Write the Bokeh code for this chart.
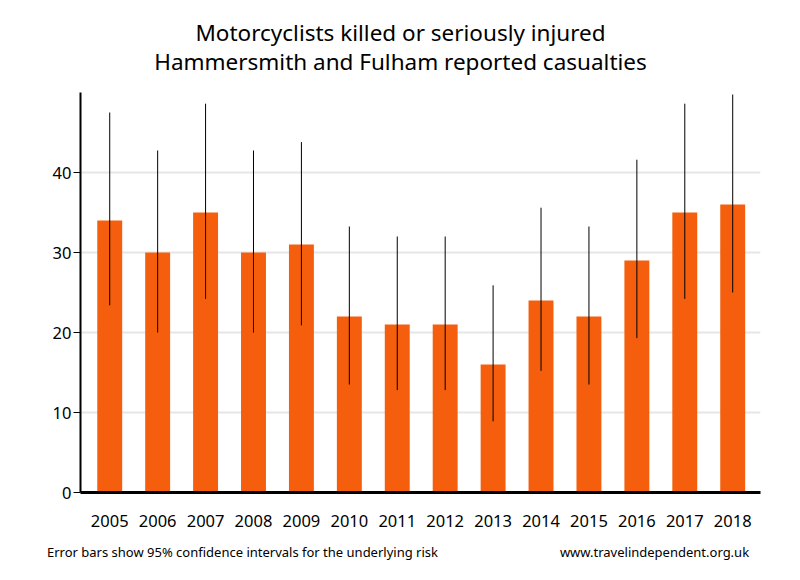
from bokeh.plotting import figure
from bokeh.models import Range1d, FixedTicker, ColumnDataSource, LinearAxis
from bokeh.embed import file_html
from bokeh.resources import INLINE

years = [2005, 2006, 2007, 2008, 2009, 2010, 2011, 2012, 2013, 2014, 2015, 2016, 2017, 2018]
casualties = [34, 30, 35, 30, 31, 22, 21, 21, 16, 24, 22, 29, 35, 36]
ci_low = [23.4, 20.0, 24.2, 20.0, 20.9, 13.5, 12.8, 12.8, 8.9, 15.2, 13.5, 19.3, 24.2, 25.0]
ci_high = [47.5, 42.75, 48.6, 42.75, 43.8, 33.25, 32.0, 32.0, 25.9, 35.6, 33.25, 41.6, 48.6, 49.75]
y_ticks = [0, 10, 20, 30, 40]

title_1 = "Motorcyclists killed or seriously injured"
title_2 = "Hammersmith and Fulham reported casualties"
footer_left = "Error bars show 95% confidence intervals for the underlying risk"
footer_right = "www.travelindependent.org.uk"

FONT = "Noto Sans"
W, H = 784, 564
FRAME_L, FRAME_R = 80, 760

src = ColumnDataSource(dict(x=years, top=casualties, lo=ci_low, hi=ci_high))

p = figure(width=W, height=H, output_backend="svg", toolbar_location=None,
           x_range=Range1d(2004.39, 2018.58), y_range=Range1d(0, 50),
           min_border_left=FRAME_L, min_border_right=W - FRAME_R,
           min_border_top=92, min_border_bottom=72)
p.outline_line_color = None
p.background_fill_color = "white"
p.border_fill_color = "white"
# a pixel-like range spanning the frame, used only to place the title/footer texts
p.extra_x_ranges = {"page": Range1d(FRAME_L, FRAME_R)}

p.vbar(x="x", top="top", bottom=0, width=0.52, source=src,
       fill_color="#F45E0D", line_color=None)
p.segment(x0="x", y0="lo", x1="x", y1="hi", source=src, line_color="black", line_width=1)

p.xgrid.grid_line_color = None
p.ygrid.grid_line_color = "#e6e6e6"
p.ygrid.grid_line_width = 2
p.ygrid.ticker = FixedTicker(ticks=y_ticks)

p.yaxis.ticker = FixedTicker(ticks=y_ticks)
p.yaxis.axis_line_width = 2
p.yaxis.axis_line_color = "black"
p.yaxis.major_tick_out = 7
p.yaxis.major_tick_in = 0
p.yaxis.major_tick_line_width = 1
p.yaxis.minor_tick_line_color = None
p.yaxis.major_label_standoff = 2
p.yaxis.major_label_text_font = FONT
p.yaxis.major_label_text_font_size = "16.5px"
p.yaxis.major_label_text_color = "black"

p.xaxis.ticker = FixedTicker(ticks=years)
p.xaxis.axis_line_width = 3
p.xaxis.axis_line_color = "black"
p.xaxis.major_tick_line_color = None
p.xaxis.minor_tick_line_color = None
p.xaxis.major_label_standoff = 16
p.xaxis.major_label_text_font = FONT
p.xaxis.major_label_text_font_size = "16.5px"
p.xaxis.major_label_text_color = "black"


def text_axis(loc, ticks, labels, size, standoff):
    ax = LinearAxis(x_range_name="page", ticker=FixedTicker(ticks=ticks),
                    major_label_overrides={t: s for t, s in zip(ticks, labels)})
    ax.axis_line_color = None
    ax.major_tick_line_color = None
    ax.minor_tick_line_color = None
    ax.major_tick_in = 0
    ax.major_tick_out = 0
    ax.major_label_standoff = standoff
    ax.major_label_text_font = FONT
    ax.major_label_text_font_size = size
    ax.major_label_text_color = "black"
    p.add_layout(ax, loc)


# titles (first added sits closest to the frame)
text_axis("above", [400], [title_2], "22.5px", 16)
text_axis("above", [400], [title_1], "22.5px", -5)
# footer
text_axis("below", [242, 654], [footer_left, footer_right], "13px", 13)

open("out.html", "w").write(file_html(p, INLINE))
